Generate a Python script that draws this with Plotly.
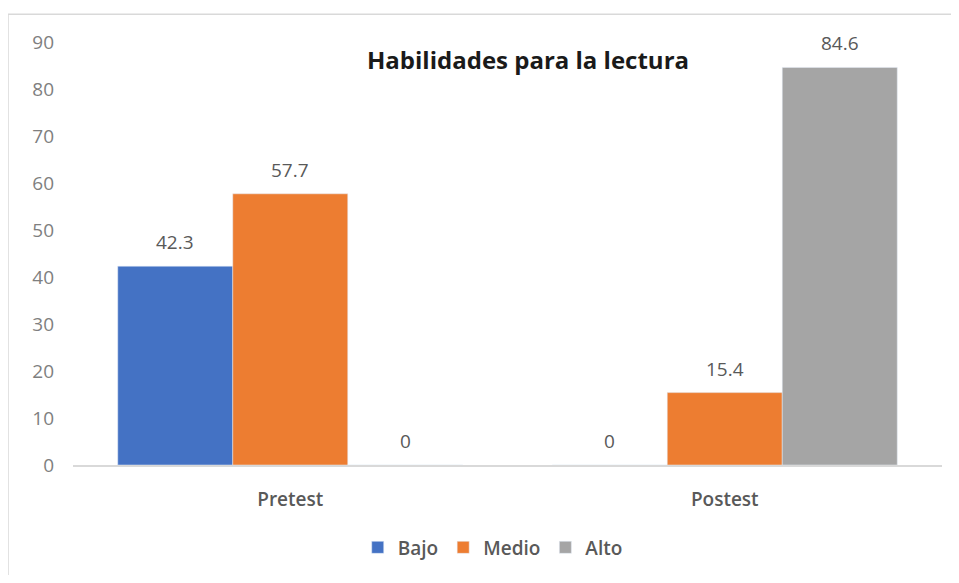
import plotly.graph_objects as go

categories = ["Pretest", "Postest"]
bajo = [42.3, 0]
medio = [57.7, 15.4]
alto = [0, 84.6]
series_names = ["Bajo", "Medio", "Alto"]
colors = ["#4472C4", "#ED7D31", "#A5A5A5"]
y_ticks = [0, 10, 20, 30, 40, 50, 60, 70, 80, 90]

FONT = "Open Sans"
W, H = 943, 567
ML, MR, MT, MB = 65, 9, 34, 108
BARGAP = 0.206

series = [bajo, medio, alto]
fig = go.Figure()
for name, vals, col in zip(series_names, series, colors):
    fig.add_trace(go.Bar(x=categories, y=vals, name=name, marker_color=col))

# data labels placed above each bar (Excel-like padding)
plot_w = W - ML - MR
plot_h = H - MT - MB
bar_w = plot_w / len(categories) * (1 - BARGAP) / len(series)
annotations = []
for i, vals in enumerate(series):
    for cat, v in zip(categories, vals):
        annotations.append(dict(
            x=cat, y=v, xref="x", yref="y", text=f"{v:g}", showarrow=False,
            xshift=(i - (len(series) - 1) / 2) * bar_w, yshift=24,
            xanchor="center", yanchor="middle",
            font=dict(family=FONT, size=19, color="#595959")))

annotations.append(dict(text="<b>Habilidades para la lectura</b>", x=0.524, y=0.958,
                        xref="paper", yref="paper", showarrow=False,
                        xanchor="center", yanchor="middle",
                        font=dict(family=FONT, size=24, color="#1a1a1a")))

# chart-area frame (top and left edges visible in the reference)
fx0 = -ML / plot_w
fy1 = (plot_h + MT - 6) / plot_h
frame = dict(color="#d9d9d9", width=1.5)
shapes = [
    dict(type="line", xref="paper", yref="paper", x0=fx0, x1=1.5, y0=fy1, y1=fy1,
         line=frame, layer="below"),
    dict(type="line", xref="paper", yref="paper", x0=fx0, x1=fx0, y0=-0.5, y1=fy1,
         line=frame, layer="below"),
]

fig.update_layout(
    width=W, height=H,
    barmode="group", bargap=BARGAP, bargroupgap=0,
    plot_bgcolor="white", paper_bgcolor="white",
    margin=dict(l=ML, r=MR, t=MT, b=MB),
    showlegend=True,
    legend=dict(orientation="h", x=0.483, y=-0.195, xanchor="center", yanchor="middle",
                font=dict(family=FONT, size=19, color="#595959", weight=600),
                itemwidth=30, traceorder="normal"),
    annotations=annotations,
    shapes=shapes,
)
fig.update_xaxes(showline=True, linecolor="#d9d9d9", linewidth=2, showgrid=False,
                 ticks="", ticklabelstandoff=16,
                 tickfont=dict(family=FONT, size=19, color="#595959", weight=600))
fig.update_yaxes(range=[0, 90], tickvals=y_ticks, showgrid=False, zeroline=False,
                 showline=False, ticks="", ticklabelstandoff=18,
                 tickfont=dict(family=FONT, size=19, color="#7f7f7f"))

fig.write_html("out.html")
